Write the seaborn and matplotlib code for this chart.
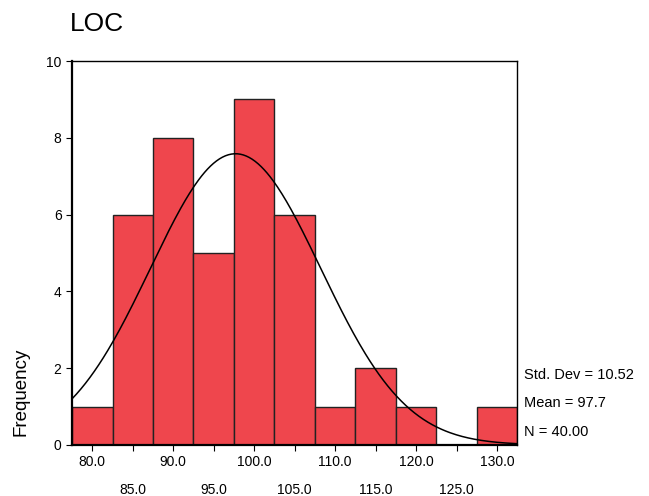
import numpy as np
import pandas as pd
import seaborn as sns
import matplotlib
matplotlib.use("Agg")
import matplotlib.pyplot as plt

# bin centres and counts
centers = [80, 85, 90, 95, 100, 105, 110, 115, 120, 125, 130]
counts = [1, 6, 8, 5, 9, 6, 1, 2, 1, 0, 1]
mean_val = 97.7
std_val = 10.52
n_val = 40
bin_w = 5
tick_vals = [80, 85, 90, 95, 100, 105, 110, 115, 120, 125, 130]

df = pd.DataFrame({"LOC": centers, "count": counts})

sns.set_style("white")
plt.rcParams["font.family"] = ["Liberation Sans", "DejaVu Sans"]
plt.rcParams["text.color"] = "black"
plt.rcParams["xtick.color"] = "black"
plt.rcParams["ytick.color"] = "black"

fig = plt.figure(figsize=(6.49, 4.96), dpi=100)
ax = fig.add_axes([0.111, 0.103, 0.686, 0.774])

sns.histplot(data=df, x="LOC", weights="count", binwidth=bin_w,
             binrange=(77.5, 132.5), color="#EF464D", alpha=1,
             edgecolor="#222222", linewidth=1.0, ax=ax)

# fitted normal curve
xs = np.linspace(77.5, 132.5, 300)
ys = n_val * bin_w * np.exp(-0.5 * ((xs - mean_val) / std_val) ** 2) / (std_val * np.sqrt(2 * np.pi))
sns.lineplot(x=xs, y=ys, color="black", linewidth=1.1, ax=ax)

ax.set_xlim(77.5, 132.5)
ax.set_ylim(0, 10)
ax.set_yticks([0, 2, 4, 6, 8, 10])
ax.set_xticks(tick_vals)
labels = []
for i, v in enumerate(tick_vals):
    lab = f"{v:.1f}"
    labels.append(lab if i % 2 == 0 else "\n" + lab)
ax.set_xticklabels(labels, fontsize=10, linespacing=2.2)
ax.tick_params(axis="y", labelsize=10, length=4, direction="out", left=True)
ax.tick_params(axis="x", length=4, direction="out", bottom=True)
ax.set_xlabel("")
ax.set_ylabel("")

for side in ["left", "bottom"]:
    ax.spines[side].set_linewidth(1.6)
    ax.spines[side].set_color("black")
for side in ["top", "right"]:
    ax.spines[side].set_linewidth(1.0)
    ax.spines[side].set_color("black")

fig.text(0.107, 0.952, "LOC", fontsize=19, ha="left", va="center")
fig.text(0.032, 0.21, "Frequency", fontsize=13.5, rotation=90, ha="center", va="center")

fig.text(0.807, 0.243, f"Std. Dev = {std_val:.2f}", fontsize=10.5, va="center")
fig.text(0.807, 0.188, f"Mean = {mean_val:.1f}", fontsize=10.5, va="center")
fig.text(0.807, 0.130, f"N = {n_val:.2f}", fontsize=10.5, va="center")

fig.savefig("out.png", dpi=100)
